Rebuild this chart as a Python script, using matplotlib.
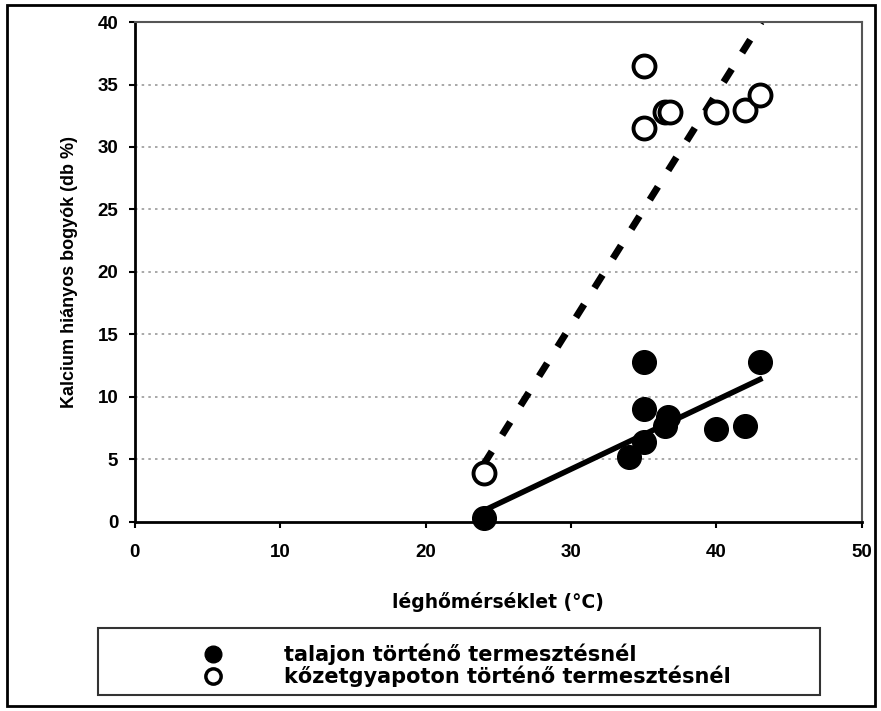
import matplotlib
matplotlib.use("Agg")
import matplotlib.pyplot as plt
from matplotlib.patches import Rectangle
from matplotlib.lines import Line2D

plt.rcParams['font.family'] = ['Liberation Sans', 'DejaVu Sans']
plt.rcParams['font.weight'] = 'bold'

# Data
soil_x = [24, 34, 35, 35, 35, 36.5, 36.7, 40, 42, 43]
soil_y = [0.3, 5.2, 6.4, 9.0, 12.8, 7.7, 8.4, 7.4, 7.7, 12.8]
wool_x = [24, 35, 35, 36.5, 36.8, 40, 42, 43]
wool_y = [3.9, 36.5, 31.5, 32.8, 32.8, 32.8, 33.0, 34.2]
soil_fit_x = [24, 43]
soil_fit_y = [0.9, 11.4]
wool_fit_x = [24, 43.1]
wool_fit_y = [4.6, 40]

x_ticks = [0, 10, 20, 30, 40, 50]
y_ticks = [0, 5, 10, 15, 20, 25, 30, 35, 40]
legend_labels = ['talajon történő termesztésnél', 'kőzetgyapoton történő termesztésnél']

fig = plt.figure(figsize=(8.81, 7.11), dpi=100)
ax = fig.add_axes([0.153, 0.266, 0.825, 0.703])

ax.set_xlim(0, 50)
ax.set_ylim(0, 40)
ax.set_xticks(x_ticks)
ax.set_yticks(y_ticks)
for y in y_ticks[1:-1]:
    ax.axhline(y, color='#9a9a9a', linestyle=(0, (1.5, 2.5)), linewidth=1.2, zorder=0)

ax.plot(wool_fit_x, wool_fit_y, color='black', linewidth=5,
        linestyle=(0, (2.2, 2.8)), zorder=2, solid_capstyle='butt')
ax.plot(soil_fit_x, soil_fit_y, color='black', linewidth=4.0, zorder=2)

ax.scatter(soil_x, soil_y, s=290, facecolor='black', edgecolor='black', zorder=3,
           clip_on=False)
ax.scatter(wool_x, wool_y, s=250, facecolor='white', edgecolor='black',
           linewidths=2.8, zorder=3, clip_on=False)

for side in ['left', 'bottom']:
    ax.spines[side].set_color('black')
    ax.spines[side].set_linewidth(2.0)
for side in ['top', 'right']:
    ax.spines[side].set_color('#555555')
    ax.spines[side].set_linewidth(1.5)

ax.tick_params(axis='both', which='both', labelsize=13.5, width=1.5, length=4,
               direction='out', top=False, right=False)
for lab in ax.get_xticklabels() + ax.get_yticklabels():
    lab.set_fontweight('bold')
ax.tick_params(axis='x', pad=12)
ax.tick_params(axis='y', pad=8)

ax.set_xlabel('léghőmérséklet (°C)', fontsize=13.5, fontweight='bold', labelpad=22,
              family=['DejaVu Sans'])
ax.set_ylabel('Kalcium hiányos bogyók (db %)', fontsize=13, fontweight='bold', labelpad=14)

# Legend box
fig.patches.append(Rectangle((0.111, 0.0225), 0.82, 0.094, transform=fig.transFigure,
                             fill=False, edgecolor='#333333', linewidth=1.5))
handles = [Line2D([], [], marker='o', linestyle='none', markersize=12,
                  markerfacecolor='black', markeredgecolor='black'),
           Line2D([], [], marker='o', linestyle='none', markersize=11,
                  markerfacecolor='white', markeredgecolor='black', markeredgewidth=2.5)]
fig.legend(handles, legend_labels, loc='center left', bbox_to_anchor=(0.218, 0.064),
           frameon=False, prop={'size': 15, 'weight': 'bold', 'family': ['DejaVu Sans']},
           handletextpad=2.4, labelspacing=0.0, borderpad=0.0, borderaxespad=0.0)

# Outer border
fig.patches.append(Rectangle((0.008, 0.007), 0.985, 0.986, transform=fig.transFigure,
                             fill=False, edgecolor='black', linewidth=2))

fig.savefig('out.png', dpi=100)
